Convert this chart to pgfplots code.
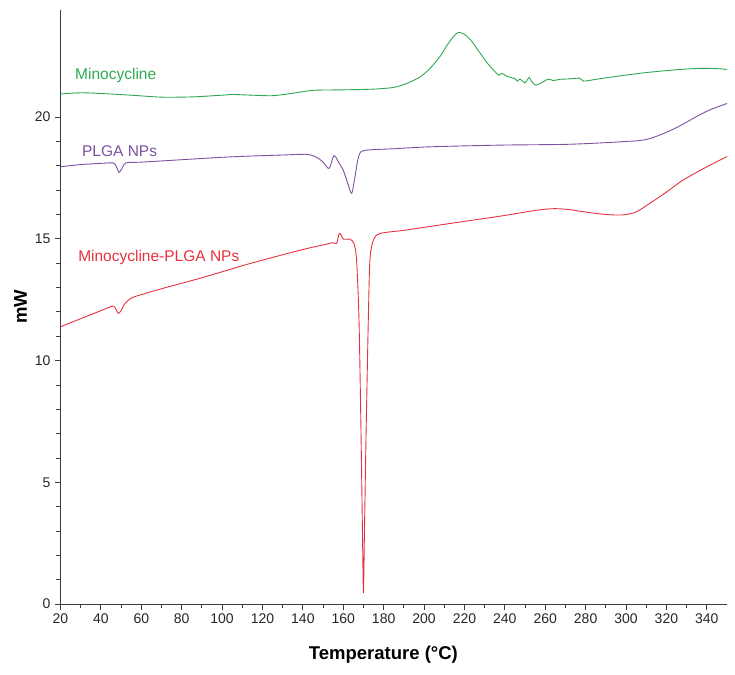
\documentclass[border=0pt]{standalone}
\usepackage{pgfplots}
\pgfplotsset{compat=1.18}
\usepackage{fontspec}
\setmainfont{Liberation Sans}
\definecolor{cgreen}{RGB}{46,168,80}
\definecolor{cpurple}{RGB}{125,80,160}
\definecolor{cred}{RGB}{230,50,62}
\definecolor{caxis}{RGB}{60,60,60}
\begin{document}
\begin{tikzpicture}
\begin{axis}[
  scale only axis, width=666.5pt, height=594pt,
  xmin=20, xmax=350, ymin=0, ymax=24.4,
  axis x line=bottom, axis y line=left,
  axis line style={-, caxis, line width=0.9pt},
  xtick={20,40,...,340}, minor x tick num=1,
  ytick={0,5,10,15,20}, minor y tick num=4,
  tick align=outside,
  major tick length=5.5pt, minor tick length=4pt,
  tick style={caxis, line width=0.8pt},
  /pgf/number format/assume math mode=true,
  ticklabel style={font=\fontsize{14}{16}\selectfont, text=black!85},
  xticklabel style={yshift=-1pt},
  yticklabel style={xshift=-1pt},
  xlabel={Temperature (°C)}, ylabel={mW},
  label style={font=\fontsize{18.5}{20}\selectfont\bfseries},
  xlabel style={at={(axis description cs:0.4845,-0.0859)}, anchor=center},
  ylabel style={at={(axis description cs:-0.06,0.5)}, anchor=center},
  clip=false,
  every axis plot/.append style={line width=0.9pt, smooth, tension=0.45},
]
\coordinate (bl) at (rel axis cs:0,0);
\addplot[cgreen] coordinates {
(20,20.95) (30,21.0) (40,20.97) (55,20.9) (70,20.82) (85,20.83) (100,20.9) (105,20.93)
(115,20.9) (125,20.88) (135,20.98) (145,21.1) (160,21.12) (175,21.15) (185,21.22)
(192,21.4) (198,21.65) (203,22.0) (208,22.5) (211,22.9) (214,23.25) (217,23.48)
(220,23.4) (223,23.18) (227,22.72) (231,22.25) (235,21.88) (237,21.72) (238.5,21.8)
(241,21.68) (245,21.58) (246.2,21.48) (247.5,21.56) (250,21.41) (252,21.63) (253,21.5)
(255,21.32) (257.5,21.38) (261.5,21.56) (264,21.5) (267,21.55) (272,21.57) (277,21.6)
(279,21.48) (285,21.55) (294,21.66) (310,21.83) (327,21.96) (337,22.0) (345,21.99) (350,21.96)
};
\addplot[cpurple] coordinates {
(20,17.96) (30,18.05) (40,18.1) (46,18.12) (47.5,18.0) (49,17.73) (50.5,17.9) (52.4,18.12)
(60,18.15) (80,18.25) (100,18.35) (114,18.4) (129,18.44) (142,18.47) (147,18.34) (150,18.15)
(153,17.89) (155.4,18.42) (158,18.1) (160,17.82) (162.5,17.21) (164.2,16.87) (165.8,17.55)
(167.4,18.3) (169.9,18.62) (185,18.7) (203,18.78) (238,18.85) (270,18.88) (290,18.95)
(300,19.0) (306,19.03) (311,19.1) (316,19.24) (322,19.45) (328,19.7) (334,19.98) (341,20.28) (350,20.56)
};
\addplot[cred] coordinates {
(20,11.39) (30,11.72) (40,12.05) (46,12.24) (47.5,12.1) (48.6,11.94) (50,12.05) (52,12.35)
(56,12.6) (70,12.95) (90,13.4) (114,13.99) (139,14.54) (150,14.75) (155,14.84) (156.7,14.81)
(158,15.22) (159,15.15) (160,14.99) (163.3,14.98) (165.3,14.81) (166.6,14.13) (167.8,11.66)
(168.8,7) (169.5,3) (170,0.45) (170.5,3) (171.3,7) (172.4,11.66) (173.2,14.13) (174.9,14.95)
(178.2,15.22) (190,15.35) (212.8,15.63) (237.6,15.93) (250,16.1) (258,16.2) (265,16.24)
(272,16.2) (280,16.1) (290,16.0) (298,15.98) (304,16.07) (308,16.25) (312,16.47) (320,16.92)
(328,17.4) (338,17.87) (350,18.38)
};
\node[anchor=west, inner sep=0pt, text=cgreen, font=\fontsize{15.5}{17}\selectfont] at (axis cs:27.2,21.72) {Minocycline};
\node[anchor=west, inner sep=0pt, text=cpurple, font=\fontsize{15.5}{17}\selectfont] at (axis cs:30.6,18.6) {PLGA NPs};
\node[anchor=west, inner sep=0pt, text=cred, font=\fontsize{15.5}{17}\selectfont] at (axis cs:28.7,14.25) {Minocycline-PLGA NPs};
\end{axis}
\pgfresetboundingbox
\path (bl) ++(-60.5pt,-70pt) rectangle ++(735pt,674pt);
\end{tikzpicture}
\end{document}
